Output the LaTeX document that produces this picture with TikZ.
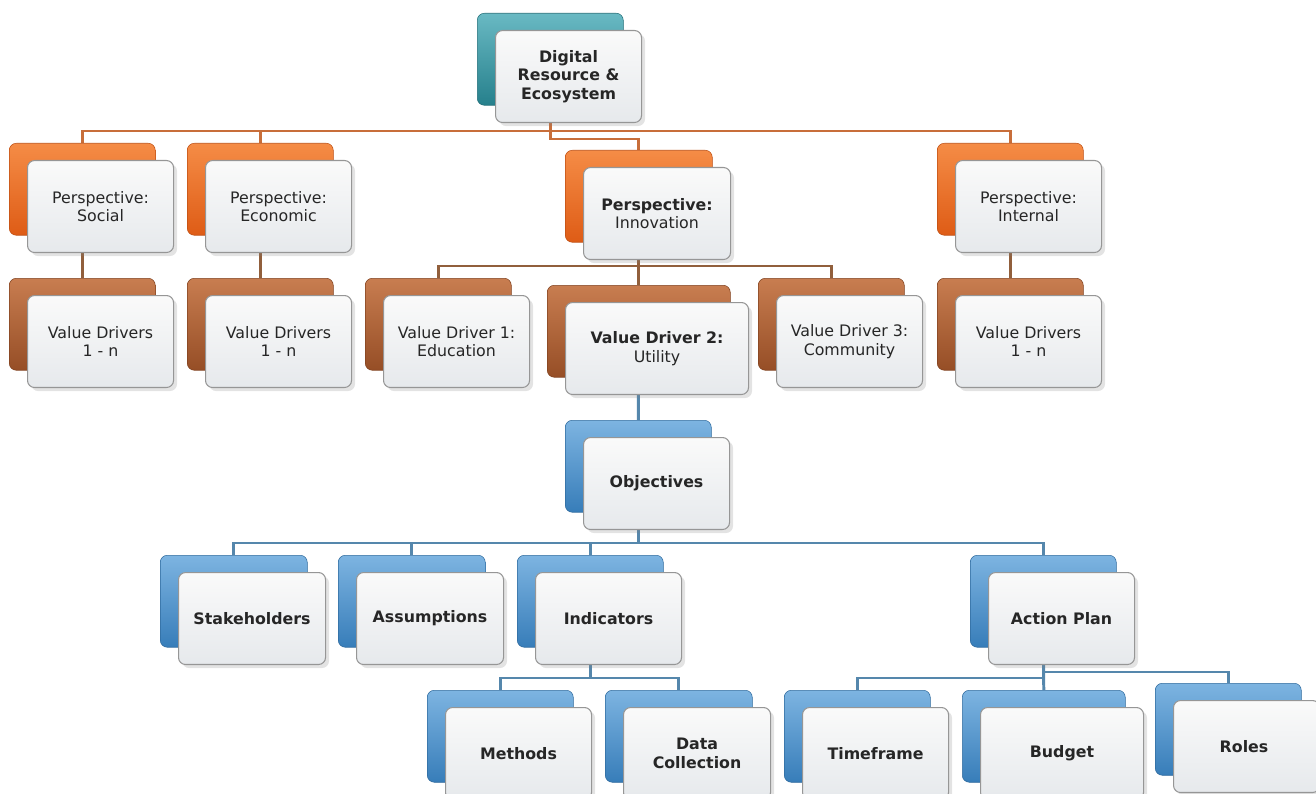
\documentclass[tikz,border=0pt]{standalone}
\usepackage{fontspec}
\setmainfont{DejaVu Sans}
\usetikzlibrary{positioning,calc,shadows,backgrounds}

\definecolor{tealtop}{RGB}{105,185,195}
\definecolor{tealbot}{RGB}{38,128,140}
\definecolor{orgtop}{RGB}{245,140,70}
\definecolor{orgbot}{RGB}{222,92,22}
\definecolor{brntop}{RGB}{200,125,80}
\definecolor{brnbot}{RGB}{150,78,38}
\definecolor{blutop}{RGB}{125,180,225}
\definecolor{blubot}{RGB}{55,125,185}
\definecolor{cardtop}{RGB}{250,250,250}
\definecolor{cardbot}{RGB}{230,233,236}
\definecolor{cardline}{RGB}{150,150,150}
\definecolor{olink}{RGB}{200,110,58}
\definecolor{blink}{RGB}{145,95,60}
\definecolor{ulink}{RGB}{85,135,172}

\begin{document}
\begin{tikzpicture}[
  font=\fontsize{9}{10.5}\selectfont,
  x=0.02cm,
  y=-0.02cm,
  back/.style={rounded corners=4pt, minimum height=1.84cm, inner sep=0pt,
    top color=#1top, bottom color=#1bot, draw=#1bot!85!black, line width=0.3pt},
  card/.style={rounded corners=4pt, minimum height=1.84cm, inner sep=0pt,
    align=center, text=black!85, top color=cardtop, bottom color=cardbot,
    draw=cardline, line width=0.6pt,
    drop shadow={opacity=0.22, shadow xshift=2pt, shadow yshift=-2pt}},
  link/.style={draw=#1, line width=1.7pt}
]
\useasboundingbox (0,0) rectangle (1316,794);
\foreach \nm/\x/\y/\w/\lvl/\txt in {
  top/477/13/146/teal/{\textbf{Digital}\\\textbf{Resource \&}\\\textbf{Ecosystem}},
  soc/9/143/146/org/{Perspective:\\Social},
  eco/187/143/146/org/{Perspective:\\Economic},
  inn/565/150/147/org/{\textbf{Perspective:}\\Innovation},
  int/937/143/146/org/{Perspective:\\Internal},
  vds/9/278/146/brn/{Value Drivers\\1 - n},
  vde/187/278/146/brn/{Value Drivers\\1 - n},
  vd1/365/278/146/brn/{Value Driver 1:\\Education},
  vd2/547/285/183/brn/{\textbf{Value Driver 2:}\\Utility},
  vd3/758/278/146/brn/{Value Driver 3:\\Community},
  vdi/937/278/146/brn/{Value Drivers\\1 - n},
  obj/565/420/146/blu/{\textbf{Objectives}},
  stk/160/555/147/blu/{\textbf{Stakeholders}},
  asm/338/555/147/blu/{\textbf{Assumptions}},
  ind/517/555/146/blu/{\textbf{Indicators}},
  act/970/555/146/blu/{\textbf{Action Plan}},
  met/427/690/146/blu/{\textbf{Methods}},
  dat/605/690/147/blu/{\textbf{Data}\\\textbf{Collection}},
  tim/784/690/146/blu/{\textbf{Timeframe}},
  bud/962/690/163/blu/{\textbf{Budget}},
  rol/1155/683/146/blu/{\textbf{Roles}}
}{
  \node[back=\lvl, minimum width=\w*0.02cm, anchor=north west] (\nm-b) at (\x,\y) {};
  \node[card, minimum width=\w*0.02cm, anchor=north west] (\nm) at (\x+18,\y+17) {\txt};
}
\coordinate (bar1) at (0,131);
\coordinate (bar1b) at (0,139);
\coordinate (bar2) at (0,266);
\coordinate (bar3) at (0,543);
\coordinate (bar4) at (0,678);
\coordinate (bar5) at (0,672);
\begin{scope}[on background layer]
  \draw[link=olink] (soc-b.north) |- (int-b.north |- bar1) -- (int-b.north);
  \draw[link=olink] (eco-b.north) -- (eco-b.north |- bar1);
  \draw[link=olink] (top-b.center) |- (inn-b.north |- bar1b) -- (inn-b.north);
  \draw[link=blink] (soc-b.center) -- (vds-b.north);
  \draw[link=blink] (eco-b.center) -- (vde-b.north);
  \draw[link=blink] (int-b.center) -- (vdi-b.north);
  \draw[link=blink] (vd1-b.north) |- (vd3-b.north |- bar2) -- (vd3-b.north);
  \draw[link=blink] (inn-b.center) -- (vd2-b.north);
  \draw[link=ulink] (vd2-b.center) -- (obj-b.north);
  \draw[link=ulink] (stk-b.north) |- (act-b.north |- bar3) -- (act-b.north);
  \draw[link=ulink] (asm-b.north) -- (asm-b.north |- bar3);
  \draw[link=ulink] (ind-b.north) -- (ind-b.north |- bar3);
  \draw[link=ulink] (obj-b.center) -- (obj-b.center |- bar3);
  \draw[link=ulink] (met-b.north) |- (dat-b.north |- bar4) -- (dat-b.north);
  \draw[link=ulink] (ind-b.center) -- (ind-b.center |- bar4);
  \draw[link=ulink] (tim-b.north) |- (act-b.center |- bar4);
  \draw[link=ulink] (act-b.center) -- (bud-b.north);
  \draw[link=ulink] (act-b.center |- bar5) -| (rol-b.north);
\end{scope}
\end{tikzpicture}
\end{document}
